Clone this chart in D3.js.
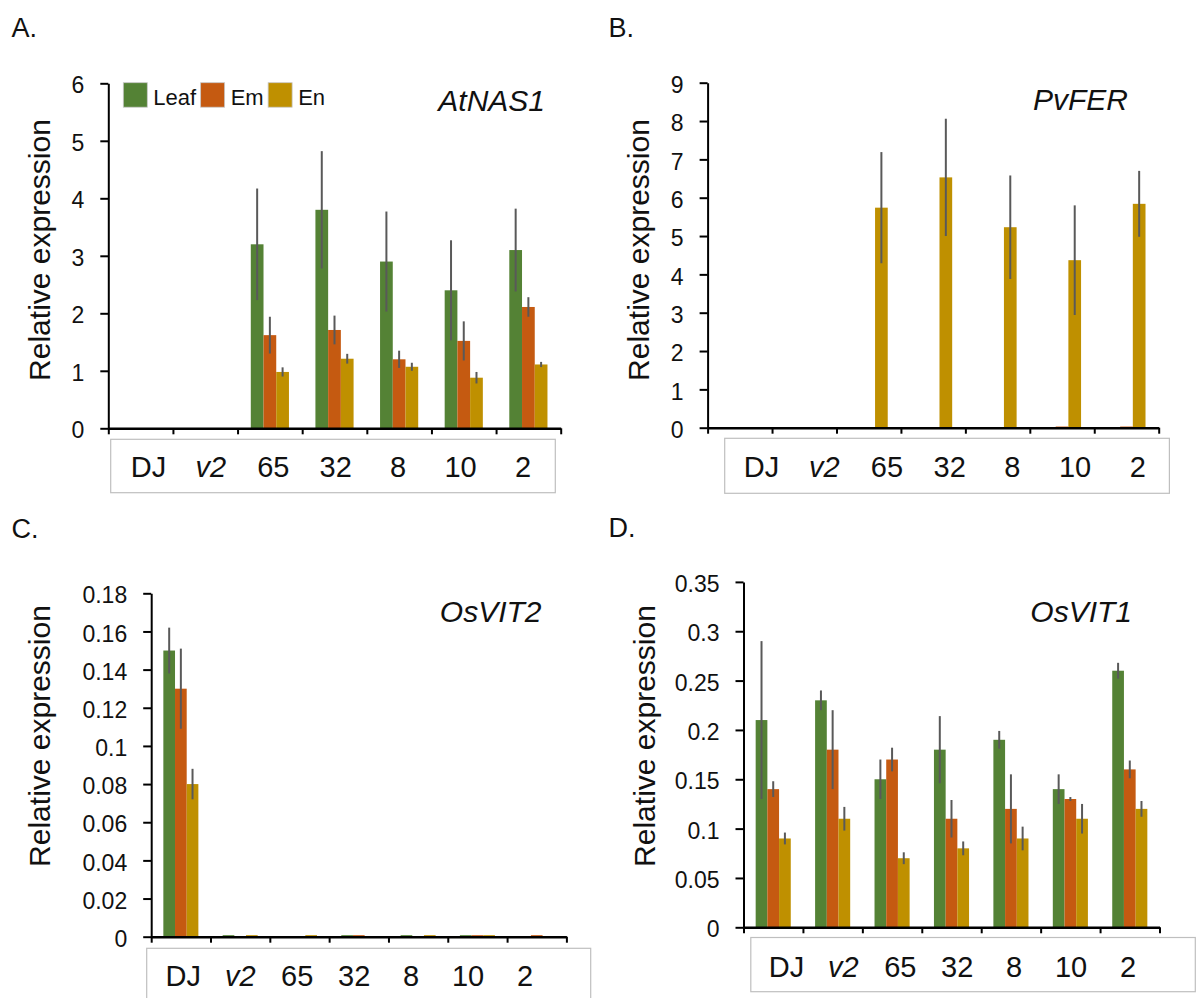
<!DOCTYPE html>
<html>
<head>
<meta charset="utf-8">
<script src="https://cdn.jsdelivr.net/npm/d3@7"></script>
<style>
  html, body { margin: 0; padding: 0; background: #fff; }
  svg { display: block; font-family: "Liberation Sans", Arial, Helvetica, sans-serif; }
</style>
</head>
<body>
<svg id="chart" width="1196" height="998"></svg>
<script>
// ---------------- DATA ----------------
const categories = ["DJ", "v2", "65", "32", "8", "10", "2"];
const seriesNames = ["Leaf", "Em", "En"];

// Panel A: AtNAS1
const atnas1Leaf = [0, 0, 3.2, 3.8, 2.9, 2.4, 3.1];
const atnas1Em   = [0, 0, 1.62, 1.71, 1.2, 1.52, 2.11];
const atnas1En   = [0, 0, 0.98, 1.21, 1.07, 0.88, 1.11];
const atnas1LeafErr = [0, 0, 0.97, 1.02, 0.87, 0.87, 0.72];
const atnas1EmErr   = [0, 0, 0.32, 0.25, 0.15, 0.34, 0.17];
const atnas1EnErr   = [0, 0, 0.08, 0.085, 0.07, 0.1, 0.045];
const atnas1Ticks = [0, 1, 2, 3, 4, 5, 6];

// Panel B: PvFER
const pvferLeaf = [0, 0, 0, 0, 0, 0, 0];
const pvferEm   = [0, 0, 0, 0, 0, 0.03, 0.03];
const pvferEn   = [0, 0, 5.74, 6.53, 5.23, 4.37, 5.84];
const pvferLeafErr = [0, 0, 0, 0, 0, 0, 0];
const pvferEmErr   = [0, 0, 0, 0, 0, 0, 0];
const pvferEnErr   = [0, 0, 1.45, 1.53, 1.35, 1.43, 0.86];
const pvferTicks = [0, 1, 2, 3, 4, 5, 6, 7, 8, 9];

// Panel C: OsVIT2
const osvit2Leaf = [0.15, 0.0008, 0, 0.0008, 0.0008, 0.0008, 0];
const osvit2Em   = [0.13, 0, 0, 0.0008, 0, 0.0008, 0.0008];
const osvit2En   = [0.08, 0.0008, 0.0008, 0, 0.0008, 0.0008, 0];
const osvit2LeafErr = [0.012, 0, 0, 0, 0, 0, 0];
const osvit2EmErr   = [0.021, 0, 0, 0, 0, 0, 0];
const osvit2EnErr   = [0.008, 0, 0, 0, 0, 0, 0];
const osvit2Ticks = [0, 0.02, 0.04, 0.06, 0.08, 0.1, 0.12, 0.14, 0.16, 0.18];

// Panel D: OsVIT1
const osvit1Leaf = [0.21, 0.23, 0.15, 0.18, 0.19, 0.14, 0.26];
const osvit1Em   = [0.14, 0.18, 0.17, 0.11, 0.12, 0.13, 0.16];
const osvit1En   = [0.09, 0.11, 0.07, 0.08, 0.09, 0.11, 0.12];
const osvit1LeafErr = [0.08, 0.01, 0.02, 0.034, 0.009, 0.015, 0.008];
const osvit1EmErr   = [0.008, 0.04, 0.012, 0.019, 0.035, 0.002, 0.009];
const osvit1EnErr   = [0.006, 0.012, 0.006, 0.007, 0.012, 0.015, 0.008];
const osvit1Ticks = [0, 0.05, 0.1, 0.15, 0.2, 0.25, 0.3, 0.35];

// ---------------- STYLE ----------------
const colors = { Leaf: "#548235", Em: "#C55A11", En: "#BF9000" };
const errColor = "#595959";
const textColor = "#111";

const svg = d3.select("#chart");

const panels = [
  { letter: "A.", gene: "AtNAS1", leaf: atnas1Leaf, em: atnas1Em, en: atnas1En,
    leafErr: atnas1LeafErr, emErr: atnas1EmErr, enErr: atnas1EnErr, ticks: atnas1Ticks,
    ax: 108.3, axEnd: 560.7, y0: 428.3, yTop: 83.3,
    box: [110.7, 439.3, 444.6, 53.4], lab: [148.5, 523], labBase: 477,
    geneXY: [545, 110.7], letterXY: [11.5, 37.3], ytXY: [50, 250], legend: true },
  { letter: "B.", gene: "PvFER", leaf: pvferLeaf, em: pvferEm, en: pvferEn,
    leafErr: pvferLeafErr, emErr: pvferEmErr, enErr: pvferEnErr, ticks: pvferTicks,
    ax: 707.6, axEnd: 1158.7, y0: 427.7, yTop: 82.7,
    box: [724.7, 438.3, 444.7, 55], lab: [761.5, 1137.8], labBase: 476.7,
    geneXY: [1128, 110], letterXY: [608.4, 37.3], ytXY: [649.4, 250] },
  { letter: "C.", gene: "OsVIT2", leaf: osvit2Leaf, em: osvit2Em, en: osvit2En,
    leafErr: osvit2LeafErr, emErr: osvit2EmErr, enErr: osvit2EnErr, ticks: osvit2Ticks,
    ax: 151.2, axEnd: 566.4, y0: 936.7, yTop: 593.3,
    box: [146.7, 948.3, 444, 56], lab: [183.3, 525], labBase: 985.7,
    geneXY: [541.5, 621.7], letterXY: [11.5, 538.3], ytXY: [50, 736] },
  { letter: "D.", gene: "OsVIT1", leaf: osvit1Leaf, em: osvit1Em, en: osvit1En,
    leafErr: osvit1LeafErr, emErr: osvit1EmErr, enErr: osvit1EnErr, ticks: osvit1Ticks,
    ax: 743.5, axEnd: 1159.5, y0: 927.3, yTop: 581.9,
    box: [750.8, 937.5, 444.5, 54.2], lab: [786.5, 1128], labBase: 976.7,
    geneXY: [1132, 621.7], letterXY: [608.4, 536.7], ytXY: [655, 736] }
];

panels.forEach(p => {
  const g = svg.append("g");
  const yMax = p.ticks[p.ticks.length - 1];
  const y = d3.scaleLinear().domain([0, yMax]).range([p.y0, p.yTop]);
  const x = d3.scaleBand().domain(categories).range([p.ax, p.axEnd]).padding(0);
  const xs = d3.scaleBand().domain(seriesNames).range([0, x.bandwidth()])
    .paddingInner(0).paddingOuter(1.04);
  const xb = d3.scaleLinear().domain([0, categories.length]).range([p.ax, p.axEnd]);

  const rows = [];
  const vals = { Leaf: p.leaf, Em: p.em, En: p.en };
  const errs = { Leaf: p.leafErr, Em: p.emErr, En: p.enErr };
  seriesNames.forEach(s => {
    categories.forEach((c, i) => rows.push({ s, c, v: vals[s][i], e: errs[s][i] }));
  });

  // bars
  g.append("g").selectAll("rect").data(rows.filter(d => d.v > 0)).join("rect")
    .attr("x", d => x(d.c) + xs(d.s))
    .attr("width", xs.bandwidth())
    .attr("y", d => y(d.v))
    .attr("height", d => Math.max(1, y(0) - y(d.v)))
    .attr("fill", d => colors[d.s]);

  // error bars
  g.append("g").selectAll("line").data(rows.filter(d => d.e > 0)).join("line")
    .attr("x1", d => x(d.c) + xs(d.s) + xs.bandwidth() / 2)
    .attr("x2", d => x(d.c) + xs(d.s) + xs.bandwidth() / 2)
    .attr("y1", d => y(d.v + d.e))
    .attr("y2", d => y(Math.max(0, d.v - d.e)))
    .attr("stroke", errColor).attr("stroke-width", 2);

  // y axis
  const yAxis = g.append("g").attr("transform", `translate(${p.ax},0)`)
    .call(d3.axisLeft(y).tickValues(p.ticks).tickSize(8).tickSizeOuter(0).tickPadding(16)
      .tickFormat(d => String(d)));
  yAxis.select(".domain").attr("stroke", "#000").attr("stroke-width", 2);
  yAxis.selectAll(".tick line").attr("stroke", "#000").attr("stroke-width", 2);
  yAxis.selectAll(".tick text").attr("font-size", 23).attr("fill", textColor)
    .attr("font-family", "Liberation Sans, Arial, sans-serif").attr("dy", "0.42em");

  // x axis with ticks at category boundaries
  const xAxis = g.append("g").attr("transform", `translate(0,${p.y0})`)
    .call(d3.axisBottom(xb).tickValues(d3.range(categories.length + 1)).tickSize(6)
      .tickSizeOuter(0).tickFormat(""));
  xAxis.select(".domain").attr("stroke", "#000").attr("stroke-width", 2.5);
  xAxis.selectAll(".tick line").attr("stroke", "#000").attr("stroke-width", 2);

  // category label box
  g.append("rect")
    .attr("x", p.box[0]).attr("y", p.box[1]).attr("width", p.box[2]).attr("height", p.box[3])
    .attr("fill", "none").attr("stroke", "#bfbfbf").attr("stroke-width", 1.2);
  const lx = d3.scalePoint().domain(categories).range(p.lab);
  g.append("g").selectAll("text").data(categories).join("text")
    .attr("x", d => lx(d)).attr("y", p.labBase)
    .attr("text-anchor", "middle").attr("font-size", 29).attr("fill", textColor)
    .attr("font-style", d => d === "v2" ? "italic" : "normal")
    .text(d => d);

  // gene name
  g.append("text").attr("x", p.geneXY[0]).attr("y", p.geneXY[1])
    .attr("text-anchor", "end").attr("font-size", 30).attr("font-style", "italic")
    .attr("fill", textColor).text(p.gene);

  // panel letter
  g.append("text").attr("x", p.letterXY[0]).attr("y", p.letterXY[1])
    .attr("font-size", 27).attr("fill", textColor).text(p.letter);

  // y title
  g.append("text").attr("transform", `translate(${p.ytXY[0]},${p.ytXY[1]}) rotate(-90)`)
    .attr("text-anchor", "middle").attr("font-size", 30).attr("fill", textColor)
    .text("Relative expression");

  // legend
  if (p.legend) {
    const lg = g.append("g");
    let cx = 123.3;
    seriesNames.forEach(s => {
      lg.append("rect").attr("x", cx).attr("y", 82.7).attr("width", 24).attr("height", 24.5)
        .attr("fill", colors[s]).attr("stroke", "#c8c8c8").attr("stroke-width", 0.8);
      const t = lg.append("text").attr("x", cx + 30).attr("y", 105)
        .attr("font-size", 22).attr("fill", textColor).text(s);
      cx = cx + 30 + t.node().getComputedTextLength() + 4.5;
    });
  }
});
</script>
</body>
</html>
